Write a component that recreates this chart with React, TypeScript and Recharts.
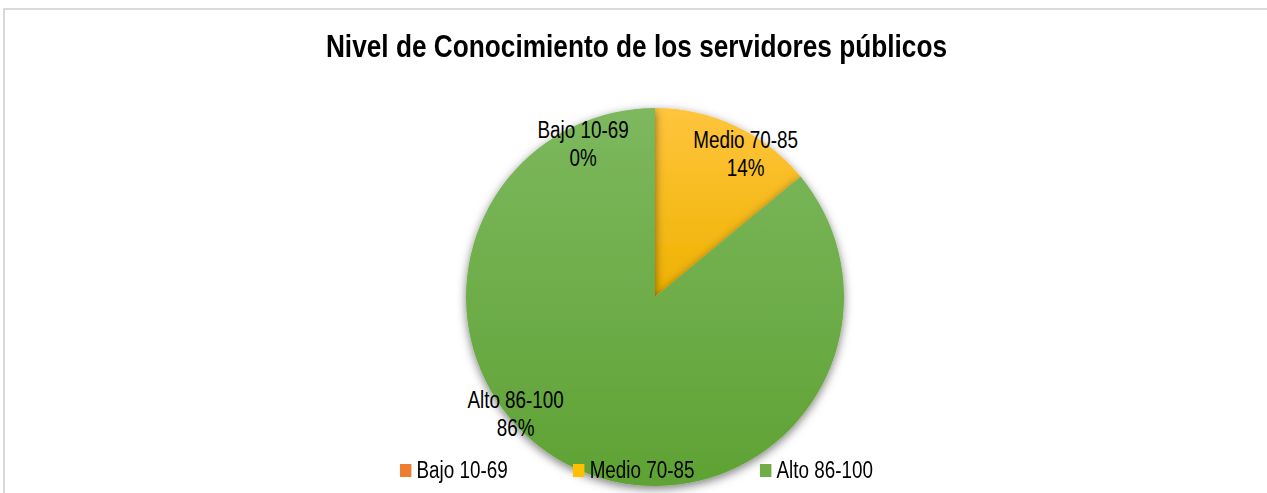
import { Cell, Legend, Pie, PieChart } from "recharts";

const categories = ["Bajo 10-69", "Medio 70-85", "Alto 86-100"];
const shares = [0, 14, 86];
const percentLabels = ["0%", "14%", "86%"];

const data = categories.map((name, i) => ({ name, value: shares[i], pct: percentLabels[i] }));

const fills = ["url(#gradBajo)", "url(#gradMedio)", "url(#gradAlto)"];
const legendColors = ["#ed7d31", "#ffc000", "#70ad47"];

// Excel nudged the data labels away from the slice centres
const labelAngleShift = [-25, 7, 25];
const labelRadiusRatio = [0.9, 0.9, 0.96];

// no Arial Narrow here, so squeeze Liberation Sans horizontally
const FONT = "'Liberation Sans', Arial, sans-serif";
const NARROW = 0.82;
const RAD = Math.PI / 180;

function renderLabel(props: any) {
  const { cx, cy, outerRadius, midAngle, index } = props;
  const angle = midAngle - labelAngleShift[index];
  const r = outerRadius * labelRadiusRatio[index];
  const x = cx + r * Math.cos(-angle * RAD);
  const y = cy + r * Math.sin(-angle * RAD);
  return (
    <g key={`lbl-${index}`} transform={`translate(${x},${y}) scale(${NARROW},1)`}>
      <text x={0} y={0} textAnchor="middle" fontFamily={FONT} fontSize={23} fill="#000">
        <tspan x={0} dy={-5}>{categories[index]}</tspan>
        <tspan x={0} dy={28}>{percentLabels[index]}</tspan>
      </text>
    </g>
  );
}

function LegendContent() {
  return (
    <div
      style={{
        display: "flex",
        justifyContent: "center",
        alignItems: "center",
        fontFamily: FONT,
        fontSize: 23,
        color: "#000",
        transform: `scaleX(${NARROW})`,
        transformOrigin: "50% 50%",
      }}
    >
      {categories.map((c, i) => (
        <div
          key={c}
          style={{ display: "flex", alignItems: "center", marginLeft: i === 0 ? 0 : 80 }}
        >
          <span
            style={{
              display: "inline-block",
              width: 14,
              height: 13,
              background: legendColors[i],
              marginRight: 6,
            }}
          />
          <span>{c}</span>
        </div>
      ))}
    </div>
  );
}

export default function App() {
  return (
    <div
      style={{
        position: "absolute",
        left: 0,
        top: 0,
        width: 1267,
        height: 493,
        overflow: "hidden",
        background: "#fff",
      }}
    >
      <div
        style={{
          position: "absolute",
          left: 3,
          top: 8,
          width: 1268,
          height: 500,
          border: "2px solid #d9d9d9",
          boxSizing: "border-box",
        }}
      />
      <div
        style={{
          position: "absolute",
          left: 3,
          width: 1267,
          top: 26,
          textAlign: "center",
          fontFamily: FONT,
          fontWeight: "bold",
          fontSize: 32,
          lineHeight: "40px",
          color: "#000",
          transform: `scaleX(${NARROW})`,
          transformOrigin: "50% 50%",
        }}
      >
        Nivel de Conocimiento de los servidores públicos
      </div>
      <div style={{ position: "absolute", left: 0, top: 0 }}>
        <PieChart width={1267} height={493} margin={{ top: 0, right: 0, bottom: 0, left: 0 }}>
          <defs>
            <linearGradient id="gradAlto" x1="0" y1="0" x2="0" y2="1">
              <stop offset="0%" stopColor="#7db85e" />
              <stop offset="100%" stopColor="#5fa234" />
            </linearGradient>
            <linearGradient id="gradMedio" x1="0" y1="0" x2="0" y2="1">
              <stop offset="0%" stopColor="#ffc53d" />
              <stop offset="100%" stopColor="#eeb100" />
            </linearGradient>
            <linearGradient id="gradBajo" x1="0" y1="0" x2="0" y2="1">
              <stop offset="0%" stopColor="#f4944f" />
              <stop offset="100%" stopColor="#e06d20" />
            </linearGradient>
            <filter id="pieShadow" x="-20%" y="-20%" width="140%" height="140%">
              <feDropShadow dx="0" dy="3" stdDeviation="5" floodColor="#000" floodOpacity="0.5" />
            </filter>
          </defs>
          <Pie
            data={data}
            dataKey="value"
            nameKey="name"
            cx={655}
            cy={297}
            outerRadius={189}
            startAngle={90}
            endAngle={-270}
            stroke="none"
            label={renderLabel}
            labelLine={false}
            isAnimationActive={false}
          >
            {data.map((d, i) => (
              <Cell key={d.name} fill={fills[i]} filter="url(#pieShadow)" />
            ))}
          </Pie>
          <Legend
            content={<LegendContent />}
            wrapperStyle={{ left: 3, top: 457, width: 1267, bottom: "auto" }}
          />
        </PieChart>
      </div>
    </div>
  );
}
